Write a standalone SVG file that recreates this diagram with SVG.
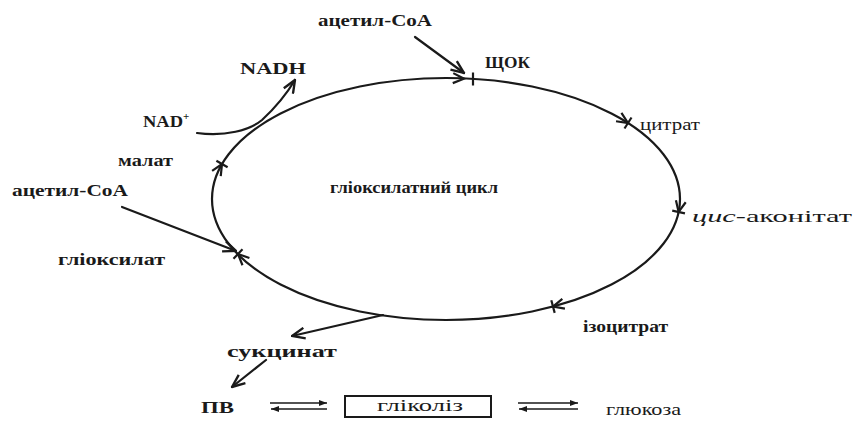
<svg xmlns="http://www.w3.org/2000/svg" width="859" height="421" viewBox="0 0 859 421">
<defs>
<style>
.t{font-family:"Liberation Serif","Times New Roman",serif;font-size:17px;fill:#1a1a1a}
.b{font-weight:bold}
.ln{fill:none;stroke:#1a1a1a;stroke-width:2.2;stroke-linecap:round}
.thin{fill:none;stroke:#1a1a1a;stroke-width:1.6}
</style>
<marker id="ah" viewBox="0 0 14 12" refX="13" refY="6" markerWidth="15" markerHeight="13" orient="auto" markerUnits="userSpaceOnUse">
<path d="M1,1 L13,6 L1,11" fill="none" stroke="#1a1a1a" stroke-width="2.2"/>
</marker>
<marker id="sh" viewBox="0 0 8 6" refX="8" refY="3" markerWidth="8" markerHeight="6" orient="auto" markerUnits="userSpaceOnUse">
<path d="M0,0 L8,3 L0,6 Z" fill="#1a1a1a"/>
</marker>
<g id="tk">
<path d="M-11,-5 L0,0 L-11,5" fill="none" stroke="#1a1a1a" stroke-width="2.2"/>
<line x1="0" y1="-6.5" x2="0" y2="6.5" stroke="#1a1a1a" stroke-width="2.2"/>
</g>
</defs>
<rect width="859" height="421" fill="#fff"/>

<g id="cycle">
<ellipse cx="446" cy="199" rx="234" ry="121" class="ln"/>
<path d="M-11,-5 L0,0 L-11,5" transform="translate(464,78.7) rotate(3)" fill="none" stroke="#1a1a1a" stroke-width="2.2"/>
<line x1="473" y1="72.5" x2="473" y2="85.5" stroke="#1a1a1a" stroke-width="2.2"/>
<use href="#tk" transform="translate(628,123) rotate(32.6)"/>
<use href="#tk" transform="translate(678.6,212) rotate(101.7)"/>
<use href="#tk" transform="translate(553,306.6) rotate(165)"/>
<use href="#tk" transform="translate(238,254) rotate(223.8)"/>
<use href="#tk" transform="translate(222,164) rotate(-59.6)"/>
<text class="t b" x="330" y="193" textLength="168" lengthAdjust="spacingAndGlyphs">гліоксилатний цикл</text>
</g>

<g id="connectors">
<line x1="415" y1="37" x2="464" y2="73" class="ln" marker-end="url(#ah)"/>
<line x1="122" y1="207" x2="236" y2="251" class="ln" marker-end="url(#ah)"/>
<path d="M197,133 C225,137 250,130 262,120 C275,108 286,95 295,80" class="ln" marker-end="url(#ah)"/>
<line x1="383" y1="315" x2="292" y2="336" class="ln" marker-end="url(#ah)"/>
<line x1="266" y1="360" x2="232" y2="387" class="ln" marker-end="url(#ah)"/>
<line x1="270" y1="403" x2="327" y2="403" class="thin" marker-end="url(#sh)"/>
<line x1="327" y1="409" x2="271" y2="409" class="thin" marker-end="url(#sh)"/>
<line x1="518" y1="403" x2="578" y2="403" class="thin" marker-end="url(#sh)"/>
<line x1="578" y1="409" x2="519" y2="409" class="thin" marker-end="url(#sh)"/>
</g>

<g id="acetylcoa-top"><text class="t b" x="318" y="26" textLength="114" lengthAdjust="spacingAndGlyphs">ацетил-CoA</text></g>
<g id="oxaloacetate"><text class="t b" x="485" y="68" textLength="45" lengthAdjust="spacingAndGlyphs">ЩОК</text></g>
<g id="nadh"><text class="t b" x="240" y="74" textLength="66" lengthAdjust="spacingAndGlyphs">NADH</text></g>
<g id="nad"><text class="t b" x="143" y="127" font-size="18"><tspan textLength="40" lengthAdjust="spacingAndGlyphs">NAD</tspan><tspan font-size="11" dy="-7">+</tspan></text></g>
<g id="malate"><text class="t b" x="118" y="166" textLength="55" lengthAdjust="spacingAndGlyphs">малат</text></g>
<g id="acetylcoa-left"><text class="t b" x="12" y="196" textLength="116" lengthAdjust="spacingAndGlyphs">ацетил-CoA</text></g>
<g id="glyoxylate"><text class="t b" x="58" y="265" textLength="107" lengthAdjust="spacingAndGlyphs">гліоксилат</text></g>
<g id="citrate"><text class="t" x="640" y="130" textLength="60" lengthAdjust="spacingAndGlyphs">цитрат</text></g>
<g id="cis-aconitate"><text class="t" x="692" y="222" textLength="160" lengthAdjust="spacingAndGlyphs"><tspan font-style="italic">цис</tspan>-аконітат</text></g>
<g id="isocitrate"><text class="t b" x="583" y="332" textLength="85" lengthAdjust="spacingAndGlyphs">ізоцитрат</text></g>
<g id="succinate"><text class="t b" x="227" y="357" textLength="110" lengthAdjust="spacingAndGlyphs">сукцинат</text></g>
<g id="pyruvate"><text class="t b" x="201" y="413" textLength="33" lengthAdjust="spacingAndGlyphs">ПВ</text></g>
<g id="glycolysis">
<rect x="345" y="396" width="146" height="21" fill="none" stroke="#1a1a1a" stroke-width="2"/>
<text class="t" x="377" y="411" textLength="86" lengthAdjust="spacingAndGlyphs">гліколіз</text>
</g>
<g id="glucose"><text class="t" x="606" y="415" textLength="75" lengthAdjust="spacingAndGlyphs">глюкоза</text></g>
</svg>
